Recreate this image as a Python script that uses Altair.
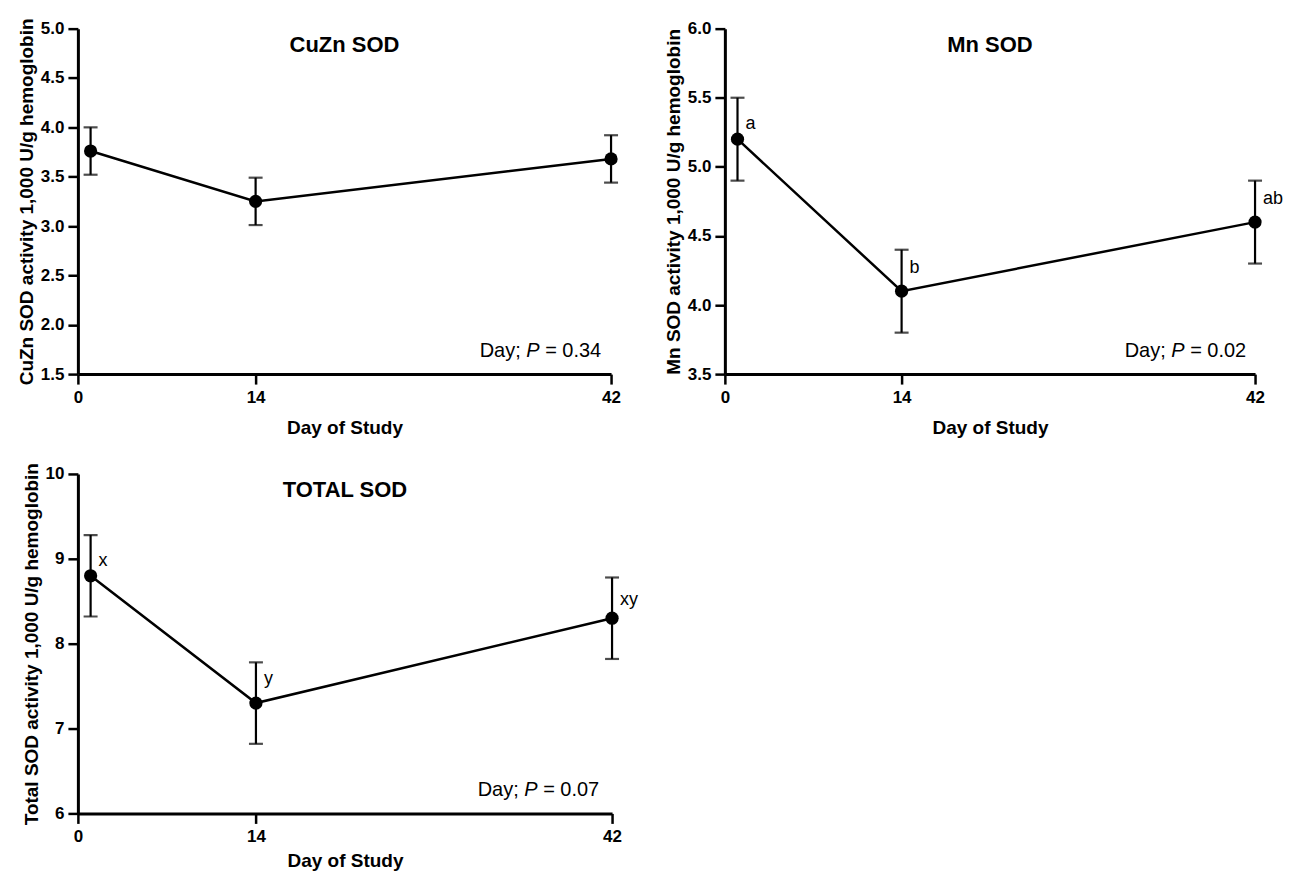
import altair as alt
import pandas as pd

# ---------------- data ----------------
days = [1, 14, 42]
x_ticks = [0, 14, 42]

cuzn_mean = [3.76, 3.25, 3.68]
cuzn_lo = [3.52, 3.01, 3.44]
cuzn_hi = [4.00, 3.49, 3.92]
cuzn_ticks = [1.5, 2.0, 2.5, 3.0, 3.5, 4.0, 4.5, 5.0]

mn_mean = [5.20, 4.10, 4.60]
mn_lo = [4.90, 3.80, 4.30]
mn_hi = [5.50, 4.40, 4.90]
mn_letters = ["a", "b", "ab"]
mn_letter_y = [5.31, 4.27, 4.77]
mn_ticks = [3.5, 4.0, 4.5, 5.0, 5.5, 6.0]

tot_mean = [8.80, 7.30, 8.30]
tot_lo = [8.32, 6.82, 7.82]
tot_hi = [9.28, 7.78, 8.78]
tot_letters = ["x", "y", "xy"]
tot_letter_y = [8.97, 7.58, 8.52]
tot_ticks = [6, 7, 8, 9, 10]

FONT = "Liberation Sans"


def panel(mean, lo, hi, yticks, yfmt, ytitle, title, pval, W, H,
          p_inset=10, letters=None, letter_y=None, x_title_pad=13):
    df = pd.DataFrame({"day": days, "mean": mean, "lo": lo, "hi": hi})
    xsc = alt.Scale(domain=[0, 42], nice=False, zero=False)
    ysc = alt.Scale(domain=[yticks[0], yticks[-1]], nice=False, zero=False)
    xax = alt.Axis(values=x_ticks, title="Day of Study", labelFlush=False,
                   labelOverlap=False, titlePadding=x_title_pad, labelPadding=5)
    yax = alt.Axis(values=yticks, format=yfmt, title=ytitle, titlePadding=4,
                   labelPadding=4)
    X = alt.X("day:Q", scale=xsc, axis=xax)

    def Y(f):
        return alt.Y(f, type="quantitative", scale=ysc, axis=yax)

    base = alt.Chart(df)
    line = base.mark_line(color="black", strokeWidth=2.5).encode(
        x=X, y=Y("mean"))
    rule = base.mark_rule(color="black", strokeWidth=2.2).encode(
        x=X, y=Y("lo"), y2="hi:Q")
    cap_lo = base.mark_tick(orient="horizontal", size=14, thickness=2.2,
                            color="black").encode(x=X, y=Y("lo"))
    cap_hi = base.mark_tick(orient="horizontal", size=14, thickness=2.2,
                            color="black").encode(x=X, y=Y("hi"))
    pts = base.mark_circle(size=175, color="black", opacity=1).encode(
        x=X, y=Y("mean"))
    layers = [line, rule, cap_lo, cap_hi, pts]

    tdf = pd.DataFrame({"t": [title]})
    ttl = alt.Chart(tdf).mark_text(font=FONT, fontSize=22, fontWeight="bold",
                                   color="black", baseline="middle",
                                   align="center").encode(
        x=alt.value(W / 2), y=alt.value(16.5), text="t:N")
    layers.append(ttl)

    pdf = pd.DataFrame({"a": ["Day;"], "b": ["P"], "c": ["= " + pval]})
    xe = W - p_inset - 56
    ya = H - 23.5
    t1 = alt.Chart(pdf).mark_text(font=FONT, fontSize=20, align="right",
                                  baseline="middle", color="black").encode(
        x=alt.value(xe - 5.6 - 13.3 - 5.6), y=alt.value(ya), text="a:N")
    t2 = alt.Chart(pdf).mark_text(font=FONT, fontSize=20, fontStyle="italic",
                                  align="right", baseline="middle",
                                  color="black").encode(
        x=alt.value(xe - 5.6), y=alt.value(ya), text="b:N")
    t3 = alt.Chart(pdf).mark_text(font=FONT, fontSize=20, align="left",
                                  baseline="middle", color="black").encode(
        x=alt.value(xe), y=alt.value(ya), text="c:N")
    layers += [t1, t2, t3]

    if letters is not None:
        ldf = pd.DataFrame({"day": days, "ly": letter_y, "lab": letters})
        lt = alt.Chart(ldf).mark_text(font=FONT, fontSize=18, align="left",
                                      baseline="middle", dx=8,
                                      color="black").encode(
            x=X, y=Y("ly"), text="lab:N")
        layers.append(lt)

    return alt.layer(*layers).properties(width=W, height=H)


p1 = panel(cuzn_mean, cuzn_lo, cuzn_hi, cuzn_ticks, ".1f",
           "CuZn SOD activity 1,000 U/g hemoglobin", "CuZn SOD", "0.34",
           534, 346, p_inset=10)
p2 = panel(mn_mean, mn_lo, mn_hi, mn_ticks, ".1f",
           "Mn SOD activity 1,000 U/g hemoglobin", "Mn SOD", "0.02",
           531, 346, p_inset=9, letters=mn_letters, letter_y=mn_letter_y)
p3 = panel(tot_mean, tot_lo, tot_hi, tot_ticks, "d",
           "Total SOD activity 1,000 U/g hemoglobin", "TOTAL SOD", "0.07",
           535, 340, p_inset=13, letters=tot_letters, letter_y=tot_letter_y,
           x_title_pad=7)

chart = alt.vconcat(
    alt.hconcat(p1, p2, spacing=43),
    p3,
    spacing=25,
).properties(
    padding={"left": 9, "top": 9, "right": 0, "bottom": 0},
    background="white",
).configure_view(stroke=None).configure_axis(
    grid=False,
    domainColor="black", domainWidth=3,
    tickColor="black", tickWidth=2.5, tickSize=10,
    labelFont=FONT, labelFontWeight="bold", labelFontSize=17, labelColor="black",
    titleFont=FONT, titleFontWeight="bold", titleFontSize=19, titleColor="black",
)

chart.save("out.html", embed_options={"renderer": "svg", "actions": False})
